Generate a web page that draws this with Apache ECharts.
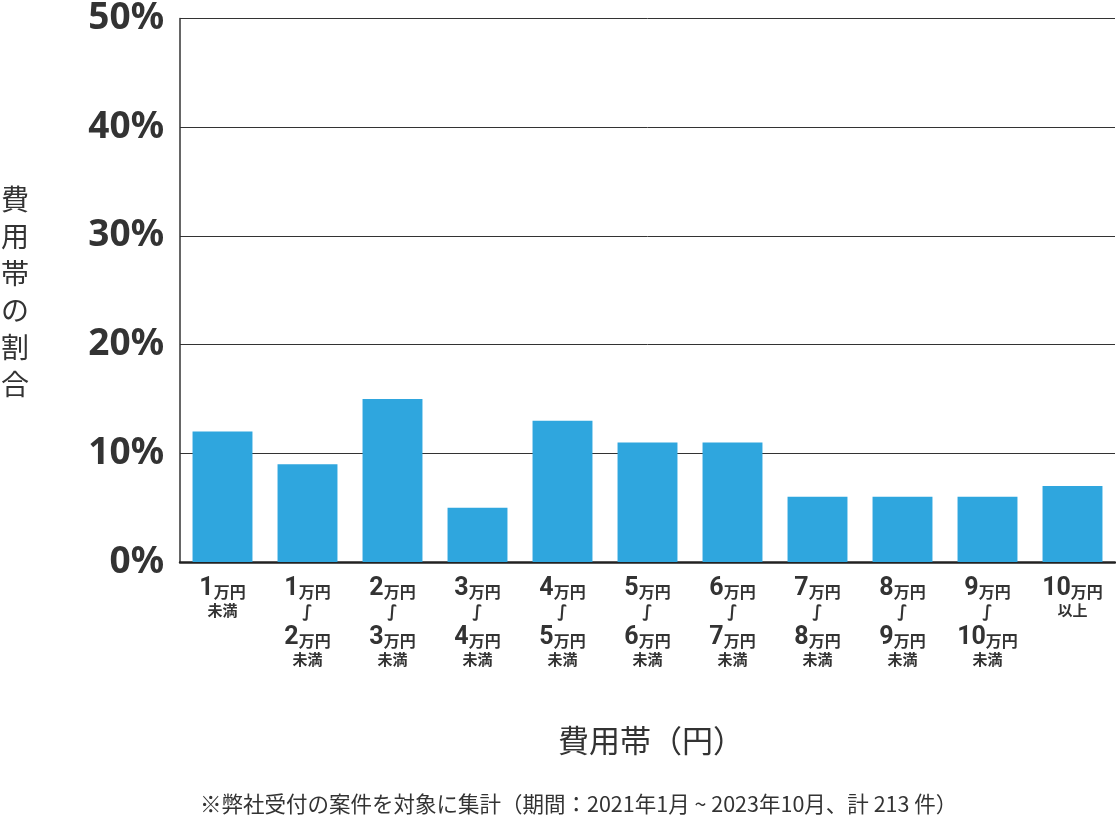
<!DOCTYPE html>
<html>
<head>
<meta charset="utf-8">
<script src="https://cdn.jsdelivr.net/npm/echarts@6/dist/echarts.min.js"></script>
<style>
html,body{margin:0;padding:0;background:#fff;}
#chart{width:1116px;height:828px;}
</style>
</head>
<body>
<div id="chart"></div>
<script>
const categories = ['1万円未満','1万円〜2万円未満','2万円〜3万円未満','3万円〜4万円未満','4万円〜5万円未満','5万円〜6万円未満','6万円〜7万円未満','7万円〜8万円未満','8万円〜9万円未満','9万円〜10万円未満','10万円以上'];
const shares = [12, 9, 15, 5, 13, 11, 11, 6, 6, 6, 7];
const yTicks = [0, 10, 20, 30, 40, 50];
const yAxisTitle = '費用帯の割合';
const xAxisTitle = '費用帯（円）';
const footnote = '※弊社受付の案件を対象に集計（期間：2021年1月 ~ 2023年10月、計 213 件）';

function fmt(cat) {
  const part = (s) => {
    const m = s.match(/^(\d+)万円(.*)$/);
    let out = '{n|' + m[1] + '}{u|万円}';
    if (m[2]) out += '\n{s|' + m[2] + '}';
    return out;
  };
  const pieces = cat.split('〜');
  if (pieces.length === 1) return part(pieces[0]);
  return part(pieces[0]) + '\n{w|∫}\n' + part(pieces[1]);
}

const chart = echarts.init(document.getElementById('chart'));
const font = '"Noto Sans CJK JP", "Noto Sans", sans-serif';
chart.setOption({
  animation: false,
  textStyle: { fontFamily: font },
  grid: { left: 180, right: 1, top: 11, bottom: 266 },
  xAxis: {
    type: 'category',
    data: categories,
    axisLine: { show: true, lineStyle: { color: '#222', width: 2.5 } },
    axisTick: { show: false },
    axisLabel: {
      interval: 0,
      margin: 15,
      formatter: fmt,
      color: '#333',
      verticalAlign: 'top',
      rich: {
        n: { fontFamily: 'Roboto, sans-serif', fontWeight: 'bold', fontSize: 25, color: '#333', lineHeight: 23 },
        u: { fontFamily: font, fontWeight: 'bold', fontSize: 16, color: '#333', lineHeight: 23, verticalAlign: 'bottom' },
        s: { fontFamily: font, fontWeight: 'bold', fontSize: 15, color: '#333', lineHeight: 21 },
        w: { fontFamily: '"DejaVu Sans", sans-serif', fontSize: 17, fontWeight: 'bold', color: '#333', lineHeight: 26 }
      }
    }
  },
  yAxis: {
    type: 'value',
    min: 0, max: 50, interval: 10,
    axisLine: { show: true, lineStyle: { color: '#333', width: 1.5 } },
    axisTick: { show: false },
    splitLine: { lineStyle: { color: '#333', width: 1 } },
    axisLabel: {
      formatter: (v) => yTicks.includes(v) ? v + '%' : '',
      fontFamily: '"Noto Sans", "Open Sans", sans-serif',
      fontWeight: 'bold',
      fontSize: 37,
      color: '#333',
      margin: 16
    }
  },
  series: [{
    type: 'bar',
    data: shares,
    barCategoryGap: '29.5%',
    itemStyle: { color: '#2fa6de' }
  }],
  graphic: [
    {
      type: 'text', left: 1, top: 181,
      style: { text: yAxisTitle.split('').join('\n'), fontSize: 28, lineHeight: 37, fill: '#333', fontFamily: font, align: 'left' }
    },
    {
      type: 'text', left: 558, top: 725,
      style: { text: xAxisTitle, fontSize: 31, fill: '#333', fontFamily: font }
    },
    {
      type: 'text', left: 200, top: 793,
      style: { text: footnote, fontSize: 21.5, fill: '#333', fontFamily: font }
    }
  ]
});
</script>
</body>
</html>
